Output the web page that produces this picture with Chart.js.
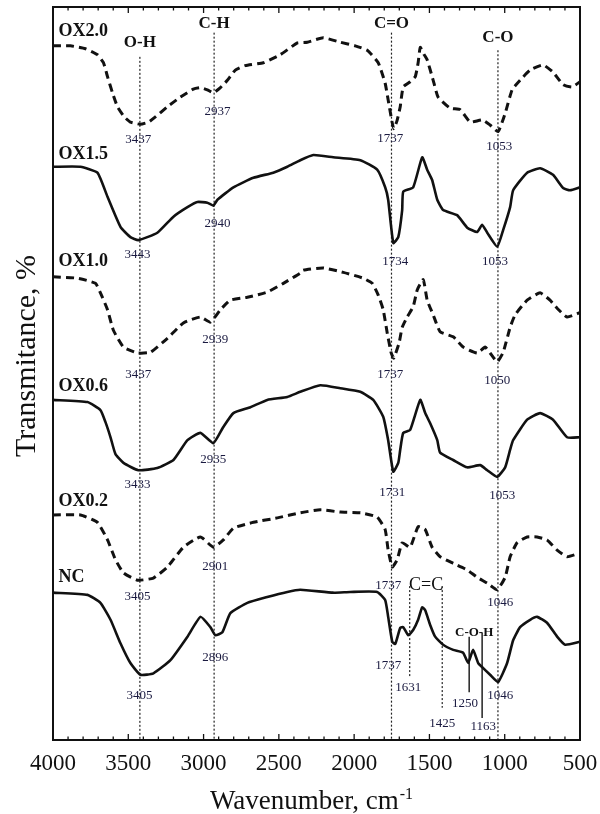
<!DOCTYPE html>
<html lang="en">
<head>
<meta charset="UTF-8">
<title>FTIR spectra</title>
<script src="https://cdn.jsdelivr.net/npm/chart.js@4.4.1/dist/chart.umd.min.js"></script>
<style>
  html, body { margin: 0; padding: 0; background: #fff; }
  #wrap { width: 600px; height: 814px; position: relative; }
</style>
</head>
<body>
<div id="wrap"><canvas id="ftir"></canvas></div>
<script>
// spectra: wavenumber (cm-1) and stacked transmittance (offset %, 0-100 frame)
const wnOX20 = [4000,3884,3784,3705,3665,3638,3605,3572,3526,3486,3419,3366,3320,3240,3154,3068,3021,2975,2935,2888,2842,2789,2723,2603,2490,2377,2311,2205,2092,1993,1913,1840,1794,1774,1750,1737,1715,1694,1674,1628,1594,1575,1561,1535,1515,1475,1442,1362,1296,1229,1150,1097,1044,997,951,898,831,745,679,612,553,500];
const trOX20 = [94.7,94.7,94.3,93.5,92.4,90.5,88.3,86.4,85.0,84.3,84.0,84.3,85.0,86.4,87.7,88.8,89.0,88.7,88.3,89.0,90.0,91.4,92.0,92.4,93.5,95.1,95.2,95.8,95.2,94.7,94.1,92.4,89.6,87.3,84.5,83.4,84.5,86.4,89.1,89.8,90.5,92.4,94.5,93.5,92.8,90.0,87.7,86.2,86.0,84.3,84.6,83.9,83.0,85.5,88.7,90.0,91.4,92.1,91.1,89.4,89.1,89.8];

const wnOX15 = [4000,3818,3705,3638,3552,3486,3433,3307,3200,3107,3041,2975,2935,2908,2802,2669,2537,2444,2358,2271,2139,1959,1847,1794,1774,1740,1707,1681,1674,1608,1548,1515,1482,1448,1409,1316,1249,1183,1150,1116,1050,1010,964,944,851,765,679,612,566,500];
const trOX15 = [78.2,78.2,77.4,74.1,70.0,68.6,68.2,69.2,71.4,72.7,73.4,73.3,72.9,73.7,75.4,76.7,77.4,78.2,79.1,79.8,79.5,79.1,77.8,75.4,73.7,67.8,68.6,72.3,74.8,75.4,79.5,77.8,76.4,73.7,72.3,71.6,69.9,69.3,70.3,69.2,67.3,69.6,72.7,75.0,77.4,78.0,77.1,75.3,75.0,75.4];

const wnOX10 = [4000,3837,3718,3685,3638,3599,3532,3439,3353,3240,3134,3021,2955,2888,2822,2709,2577,2470,2358,2338,2205,2072,1940,1880,1840,1807,1780,1754,1737,1701,1681,1648,1608,1581,1541,1515,1475,1429,1342,1276,1183,1130,1097,1050,1010,964,931,851,765,699,652,586,500];
const trOX10 = [63.2,63.0,62.3,61.0,58.7,55.9,53.6,52.8,52.9,54.8,56.9,57.7,57.0,58.7,60.0,60.4,61.1,62.3,63.7,64.1,64.4,63.8,63.0,62.3,60.7,58.7,55.5,52.8,52.1,54.2,56.3,57.7,59.1,61.4,62.8,60.0,58.0,55.7,55.0,53.6,52.8,53.6,52.8,51.6,52.9,56.3,58.0,60.0,61.0,60.0,58.9,57.7,58.3];

const wnOX06 = [4000,3771,3685,3652,3618,3585,3532,3433,3307,3200,3107,3021,2935,2869,2802,2689,2577,2444,2358,2225,2092,1959,1873,1807,1774,1740,1707,1694,1674,1628,1561,1528,1495,1448,1429,1342,1249,1163,1116,1050,997,964,944,851,765,679,586,500];
const trOX06 = [46.4,46.1,45.0,43.4,41.3,39.0,37.8,36.8,37.1,38.2,40.9,41.9,40.5,42.7,44.6,45.4,46.4,46.8,47.5,48.4,48.0,47.5,46.4,44.1,40.9,36.6,37.8,39.6,41.9,42.3,46.4,44.6,43.2,40.9,39.2,38.2,37.2,37.5,36.8,35.9,37.2,39.6,40.9,43.7,44.6,43.7,41.3,41.3];

const wnOX02 = [4000,3818,3705,3638,3585,3532,3439,3333,3240,3134,3021,2935,2869,2802,2669,2510,2358,2225,2092,1959,1847,1794,1774,1747,1714,1681,1628,1575,1528,1482,1429,1342,1249,1183,1116,1050,997,964,918,851,785,719,652,586,500];
const trOX02 = [30.7,30.7,29.7,27.3,24.6,22.8,21.8,22.1,23.6,26.3,27.7,26.3,27.3,28.9,29.7,30.3,31.0,31.4,31.1,31.0,30.4,28.7,25.9,23.6,24.6,26.9,26.3,29.1,28.7,26.3,25.0,24.1,23.2,22.2,21.4,20.5,22.2,25.0,26.9,27.7,27.7,27.3,25.9,25.0,25.5];

const wnNC = [4000,3771,3685,3618,3552,3486,3419,3333,3220,3107,3021,2955,2922,2875,2822,2709,2577,2444,2358,2139,2026,1847,1794,1774,1747,1727,1694,1674,1641,1608,1575,1548,1528,1495,1462,1409,1342,1276,1243,1210,1176,1143,1097,1044,984,944,898,831,785,719,652,599,500];
const trNC = [20.1,19.8,18.7,16.4,13.2,10.5,8.9,9.1,10.9,14.1,16.8,15.4,14.3,14.7,17.3,18.7,19.5,20.2,20.5,20.1,20.2,20.2,19.1,16.8,13.4,13.1,15.3,15.4,14.3,15.0,16.4,18.1,17.7,15.7,14.1,13.0,12.3,11.9,10.5,12.3,10.5,9.8,8.9,7.9,10.5,13.6,15.4,16.4,16.8,16.0,14.1,13.0,13.4];

const seriesNames = ['OX2.0', 'OX1.5', 'OX1.0', 'OX0.6', 'OX0.2', 'NC'];
const seriesWn = [wnOX20, wnOX15, wnOX10, wnOX06, wnOX02, wnNC];
const seriesTr = [trOX20, trOX15, trOX10, trOX06, trOX02, trNC];
const seriesDashed = [true, false, true, false, true, false];
const nameTr = [96.7, 79.9, 65.3, 48.2, 32.6, 22.2];

// band guide lines
const bandNames = ['O-H', 'C-H', 'C=O', 'C-O'];
const bandWn = [3423, 2930, 1752, 1045];
const bandTop = [93.2, 96.5, 96.5, 94.1];
const bandLabelTr = [95.1, 97.8, 97.8, 95.8];
const ccWn = [1631, 1415];
const ccBottom = [8.5, 4.4];
const cohWn = [1236, 1150];
const cohTop = [14.1, 14.6];
const cohBottom = [6.5, 3.0];

// peak position labels
const peakText = ['3437','2937','1737','1053', '3443','2940','1734','1053', '3437','2939','1737','1050',
                  '3433','2935','1731','1053', '3405','2901','1737','1046', '3405','2896','1737','1631','1046','1250','1425','1163'];
const peakWn = [3433,2908,1760,1037, 3439,2908,1727,1064, 3433,2922,1760,1050,
                3439,2935,1747,1017, 3439,2922,1774,1030, 3426,2922,1774,1641,1030,1263,1415,1143];
const peakTr = [81.9,85.7,82.0,80.9, 66.2,70.5,65.3,65.3, 49.9,54.6,49.8,49.1,
                34.8,38.2,33.8,33.3, 19.5,23.7,21.1,18.7, 6.0,11.3,10.1,7.1,6.1,5.0,2.3,1.8];

const serif = '"Liberation Serif", "Times New Roman", serif';

const datasets = seriesNames.map((name, i) => ({
  label: name,
  data: seriesWn[i].map((w, j) => ({ x: w, y: seriesTr[i][j] })),
  borderColor: '#111',
  borderWidth: seriesDashed[i] ? 3 : 2.6,
  borderDash: seriesDashed[i] ? [8, 5] : [],
  pointRadius: 0,
  tension: 0.15,
  fill: false
}));

function seg(ctx, x1, y1, x2, y2) {
  ctx.beginPath(); ctx.moveTo(x1, y1); ctx.lineTo(x2, y2); ctx.stroke();
}

const deco = {
  id: 'deco',
  beforeDraw(chart) {
    const ctx = chart.ctx;
    ctx.save();
    ctx.fillStyle = '#fff';
    ctx.fillRect(0, 0, chart.width, chart.height);
    ctx.restore();
  },
  beforeDatasetsDraw(chart) {
    const { ctx, chartArea: a, scales: { x, y } } = chart;
    ctx.save();
    ctx.strokeStyle = '#222';
    ctx.lineWidth = 1.2;
    ctx.setLineDash([2, 2]);
    bandWn.forEach((w, i) => {
      const px = x.getPixelForValue(w);
      seg(ctx, px, y.getPixelForValue(bandTop[i]), px, a.bottom);
    });
    ccWn.forEach((w, i) => {
      const px = x.getPixelForValue(w);
      seg(ctx, px, y.getPixelForValue(21.0), px, y.getPixelForValue(ccBottom[i]));
    });
    ctx.setLineDash([]);
    ctx.lineWidth = 1.5;
    cohWn.forEach((w, i) => {
      const px = x.getPixelForValue(w);
      seg(ctx, px, y.getPixelForValue(cohTop[i]), px, y.getPixelForValue(cohBottom[i]));
    });
    ctx.restore();
  },
  afterDatasetsDraw(chart) {
    const { ctx, chartArea: a, scales: { x, y } } = chart;
    ctx.save();
    // frame + inward ticks
    ctx.strokeStyle = '#111';
    ctx.lineWidth = 2;
    ctx.strokeRect(a.left, a.top, a.width, a.height);
    ctx.lineWidth = 1.3;
    x.ticks.forEach(t => {
      const px = x.getPixelForValue(t.value);
      const len = t.value % 500 === 0 ? 6 : 3.5;
      seg(ctx, px, a.bottom, px, a.bottom - len);
      seg(ctx, px, a.top, px, a.top + len);
    });

    // series names
    ctx.fillStyle = '#111';
    ctx.textBaseline = 'middle';
    ctx.textAlign = 'left';
    ctx.font = 'bold 18px ' + serif;
    seriesNames.forEach((n, i) => ctx.fillText(n, x.getPixelForValue(3964), y.getPixelForValue(nameTr[i])));

    // band names
    ctx.textAlign = 'center';
    ctx.font = 'bold 17px ' + serif;
    bandNames.forEach((n, i) => ctx.fillText(n, x.getPixelForValue(bandWn[i]), y.getPixelForValue(bandLabelTr[i])));
    ctx.font = '18px ' + serif;
    ctx.fillText('C=C', x.getPixelForValue(1522), y.getPixelForValue(21.1));
    ctx.font = 'bold 13px ' + serif;
    ctx.fillText('C-O-H', x.getPixelForValue(1203), y.getPixelForValue(14.7));

    // peak numbers
    ctx.fillStyle = '#1a1a40';
    ctx.font = '13px ' + serif;
    peakText.forEach((s, i) => ctx.fillText(s, x.getPixelForValue(peakWn[i]), y.getPixelForValue(peakTr[i])));

    // axis titles
    ctx.fillStyle = '#111';
    ctx.save();
    ctx.translate(27, 356);
    ctx.rotate(-Math.PI / 2);
    ctx.font = '30px ' + serif;
    ctx.textBaseline = 'middle';
    ctx.fillText('Transmitance, %', 0, 0);
    ctx.restore();

    ctx.textBaseline = 'alphabetic';
    ctx.textAlign = 'left';
    ctx.font = '27px ' + serif;
    const main = 'Wavenumber, cm';
    const wMain = ctx.measureText(main).width;
    ctx.font = '16px ' + serif;
    const sup = '-1';
    const wSup = ctx.measureText(sup).width;
    const x0 = 311 - (wMain + wSup) / 2;
    ctx.font = '27px ' + serif;
    ctx.fillText(main, x0, 809);
    ctx.font = '16px ' + serif;
    ctx.fillText(sup, x0 + wMain + 1, 799);
    ctx.restore();
  }
};

new Chart(document.getElementById('ftir').getContext('2d'), {
  type: 'line',
  data: { datasets },
  options: {
    responsive: true,
    maintainAspectRatio: false,
    animation: false,
    layout: { padding: { left: 53, right: 20, top: 7, bottom: 0 } },
    plugins: { legend: { display: false }, tooltip: { enabled: false } },
    scales: {
      x: {
        type: 'linear',
        reverse: true,
        min: 500,
        max: 4000,
        afterFit(s) {
          s.height = 74;
          s.paddingLeft = 0;
          s.paddingRight = 0;
        },
        grid: { display: false, drawTicks: false },
        border: { display: false },
        ticks: {
          stepSize: 100,
          maxTicksLimit: 100,
          autoSkip: false,
          maxRotation: 0,
          padding: 10,
          color: '#111',
          font: { family: serif, size: 23 },
          callback: v => (v % 500 === 0 ? String(v) : '')
        }
      },
      y: { display: false, min: 0, max: 100 }
    }
  },
  plugins: [deco]
});
</script>
</body>
</html>
